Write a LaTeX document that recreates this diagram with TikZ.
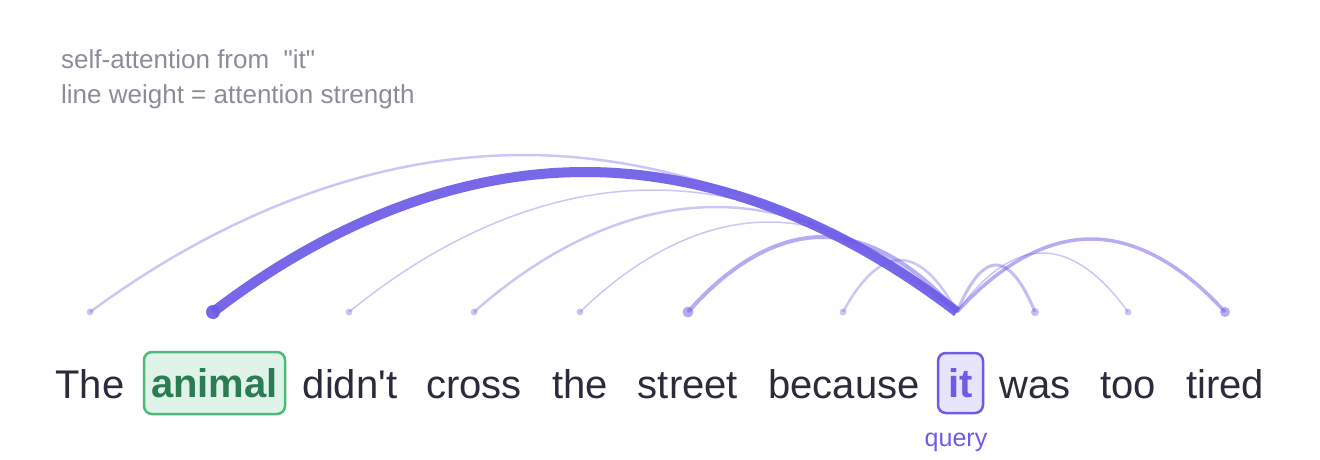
\documentclass[tikz,border=0pt]{standalone}
\usepackage{fontspec}
\setmainfont{Liberation Sans}
\usetikzlibrary{positioning}

\definecolor{attn}{HTML}{6C5CE7}
\definecolor{ink}{HTML}{2B2B3B}
\definecolor{mute}{HTML}{8C8C99}
\definecolor{keyfill}{HTML}{DFF3E8}
\definecolor{keyline}{HTML}{4CBB7A}
\definecolor{keytext}{HTML}{2A7D52}
\definecolor{qfill}{HTML}{E7E5FC}

\tikzset{
  word/.style={anchor=base, inner sep=0pt, text=ink, font=\fontsize{40}{48}\selectfont},
  keybox/.style={draw=keyline, fill=keyfill, text=keytext, line width=2.5pt, rounded corners=8pt,
    minimum width=141pt, minimum height=62pt, inner sep=0pt, font=\fontsize{40}{48}\selectfont\bfseries},
  querybox/.style={draw=attn, fill=qfill, text=attn, line width=2.5pt, rounded corners=8pt,
    minimum width=45pt, minimum height=60pt, inner sep=0pt, font=\fontsize{40}{48}\selectfont\bfseries},
  note/.style={anchor=base west, inner sep=0pt, text=mute, font=\fontsize{26}{34}\selectfont},
  querylabel/.style={inner sep=0pt, text=attn, font=\fontsize{25}{30}\selectfont}
}

\begin{document}
\begin{tikzpicture}[x=1pt,y=-1pt]
    \useasboundingbox (0,0) rectangle (1320,460);

    \node[note] (title) at (61,69) {self-attention from \ \textquotedbl it\textquotedbl};
    \node[note] (legend) at (61,103) {line weight = attention strength};

    \node[word] (wThe) at (90,398) {The};
    \node[keybox] (wanimal) at (214.5,383) {animal};
    \node[word] (wdidnt) at (350,398) {didn\textquotesingle t};
    \node[word] (wcross) at (474,398) {cross};
    \node[word] (wthe) at (580,398) {the};
    \node[word] (wstreet) at (688,398) {street};
    \node[word] (wbecause) at (844,398) {because};
    \node[querybox] (wit) at (960.5,383) {it};
    \node[word] (wwas) at (1035,398) {was};
    \node[word] (wtoo) at (1128,398) {too};
    \node[word] (wtired) at (1225,398) {tired};
    \node[querylabel] (query) at (956,442) {query};

    \foreach \w/\x in {The/90, animal/213, didnt/349, cross/474, the/580, street/688,
        because/843, it/957, was/1035, too/1128, tired/1225}
        \coordinate (d\w) at (\x,312);

    \foreach \w/\px/\py/\lw/\op/\r in {The/523.5/155/2.5/0.35/3.5, animal/585/172/10/0.93/7,
        didnt/653/190/1.5/0.35/3.5, cross/715.5/207/2.5/0.35/3.5, the/768.5/222/1.5/0.35/3.5,
        street/822.5/237/4/0.5/5.5, because/900/260/2.5/0.35/3.5, was/996/265/3/0.4/4,
        too/1042.5/253/1.5/0.35/3.5, tired/1091/239/3.5/0.5/5}
    {
        \draw[line width=\lw pt, draw=attn, draw opacity=\op] (d\w) parabola bend (\px,\py) (dit);
        \fill[attn, opacity=\op] (d\w) circle (\r pt);
    }

\end{tikzpicture}
\end{document}
